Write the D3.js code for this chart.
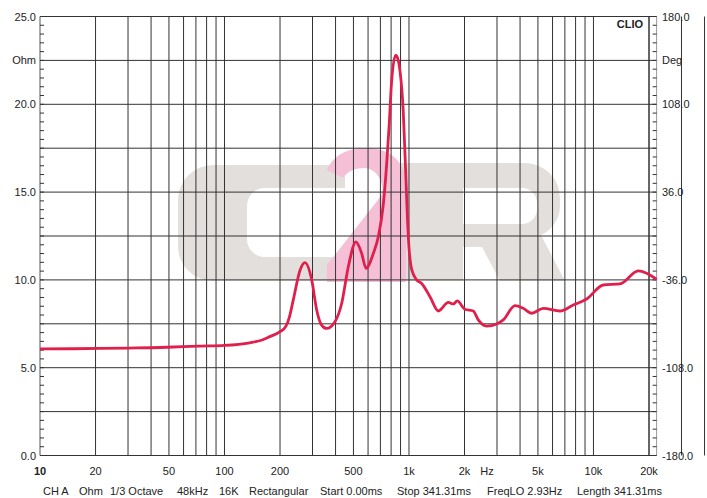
<!DOCTYPE html>
<html>
<head>
<meta charset="utf-8">
<script src="https://cdn.jsdelivr.net/npm/d3@7"></script>
<style>
  body { margin: 0; background: #fff; }
  text { font-family: "Liberation Sans", Arial, sans-serif; font-size: 11px; fill: #222; }
</style>
</head>
<body>
<div id="chart"></div>
<script>
// impedance curve
const freqs = [10, 15, 21, 30, 45, 60, 74, 100, 137, 160, 176, 200, 215, 225, 236, 257, 273, 297, 316, 336, 358, 397, 432, 469, 516, 554, 585, 641, 682, 726, 757, 782, 805, 847, 875, 894, 931, 960, 991, 1034, 1101, 1172, 1300, 1442, 1634, 1738, 1827, 2011, 2231, 2375, 2636, 2987, 3244, 3755, 4164, 4624, 5346, 6580, 7770, 9180, 11300, 13920, 17490, 19410, 22000];
const ohms = [6.07, 6.08, 6.1, 6.12, 6.15, 6.2, 6.23, 6.27, 6.42, 6.58, 6.77, 7.05, 7.35, 7.9, 8.86, 10.56, 10.98, 10.0, 8.29, 7.43, 7.24, 7.62, 8.67, 10.75, 12.17, 11.51, 10.66, 11.51, 12.46, 14.3, 16.6, 18.9, 21.3, 22.8, 22.5, 21.9, 19.6, 16.1, 12.5, 10.6, 10.0, 9.8, 9.04, 8.23, 8.72, 8.63, 8.8, 8.33, 8.23, 7.72, 7.37, 7.49, 7.72, 8.53, 8.38, 8.1, 8.38, 8.23, 8.57, 8.91, 9.71, 9.77, 10.51, 10.38, 10.03];

const xTicks = [10, 20, 50, 100, 200, 500, 1000, 2000, 5000, 10000, 20000];
const xTickLabels = ['10', '20', '50', '100', '200', '500', '1k', '2k', '5k', '10k', '20k'];
const yTicks = [0, 5, 10, 15, 20, 25];
const yTickLabels = ['0.0', '5.0', '10.0', '15.0', '20.0', '25.0'];
const degLabels = ['-180.0', '-108.0', '-36.0', '36.0', '108.0', '180.0'];
const infoItems = [['CH A', 43], ['Ohm', 79], ['1/3 Octave', 110], ['48kHz', 177], ['16K', 219], ['Rectangular', 249], ['Start 0.00ms', 320], ['Stop 341.31ms', 397], ['FreqLO 2.93Hz', 487], ['Length 341.31ms', 577]];

const width = 707, height = 498;

const svg = d3.select('#chart').append('svg')
    .attr('width', width)
    .attr('height', height);

const x = d3.scaleLog().domain([10, 20000]).range([40, 649]);
const y = d3.scaleLinear().domain([0, 25]).range([455.5, 16.5]);
const xLeft = x(10), xRight = x(22000), yTop = y(25), yBottom = y(0);

// C2R watermark
const wm = svg.append('g');
wm.append('path')
    .attr('fill', '#e3dfdc')
    .attr('d', 'M345 165 L213 165 A35 35 0 0 0 178 200 L178 246 A35 35 0 0 0 213 281 L345 281 L345 257 L265 257 A18 18 0 0 1 247 239 L247 206 A18 18 0 0 1 265 188 L345 188 Z');
wm.append('path')
    .attr('fill', '#e3dfdc')
    .attr('fill-rule', 'evenodd')
    .attr('d', 'M400 163 L525 163 A35 35 0 0 1 560 198 L560 206 A32 32 0 0 1 541 235 L565 281 L500 281 L482 247 L463 247 L463 281 L400 281 Z ' +
               'M463 188 L522 188 A15 15 0 0 1 537 203 L537 208 A15 15 0 0 1 522 224 L463 224 Z');
wm.append('path')
    .attr('fill', '#f5c0d5')
    .attr('d', 'M327 170 C333 155 348 148 366 148 C392 148 406 163 406 186 L406 282 L327 282 L327 265 L381 196 C386 186 378 168 364 168 C354 168 347 172 343 178 Z');

// grid
const vLines = [];
for (let d = 10; d <= 10000; d *= 10) {
    for (let m = 1; m <= 9; m++) vLines.push(d * m);
}
vLines.push(20000);

svg.append('g').selectAll('line')
    .data(vLines.filter(v => v > 10))
    .enter().append('line')
    .attr('x1', d => x(d)).attr('x2', d => x(d))
    .attr('y1', yTop).attr('y2', yBottom)
    .attr('stroke', '#333').attr('stroke-width', 1);

svg.append('g').selectAll('line')
    .data(d3.range(0, 25.01, 2.5))
    .enter().append('line')
    .attr('x1', xLeft).attr('x2', xRight)
    .attr('y1', d => y(d)).attr('y2', d => y(d))
    .attr('stroke', '#333').attr('stroke-width', 1);

svg.append('line')
    .attr('x1', xLeft).attr('x2', xLeft).attr('y1', yTop).attr('y2', yBottom)
    .attr('stroke', '#555');
svg.append('line')
    .attr('x1', xRight).attr('x2', xRight).attr('y1', yTop).attr('y2', yBottom)
    .attr('stroke', '#999');

// minor ticks on both sides
const minor = d3.range(0, 25.01, 0.5);
svg.append('g').selectAll('line')
    .data(minor).enter().append('line')
    .attr('x1', xLeft).attr('x2', xLeft + 4)
    .attr('y1', d => y(d)).attr('y2', d => y(d))
    .attr('stroke', '#333');
svg.append('g').selectAll('line')
    .data(minor).enter().append('line')
    .attr('x1', xRight - 4).attr('x2', xRight)
    .attr('y1', d => y(d)).attr('y2', d => y(d))
    .attr('stroke', '#333');

// curve
const line = d3.line()
    .x((d, i) => x(freqs[i]))
    .y(d => y(d))
    .curve(d3.curveMonotoneX);

svg.append('path')
    .datum(ohms)
    .attr('fill', 'none')
    .attr('stroke', '#e01f4d')
    .attr('stroke-width', 2.8)
    .attr('stroke-linejoin', 'round')
    .attr('d', line);

// left labels
svg.append('g').selectAll('text')
    .data(yTicks).enter().append('text')
    .attr('x', 36).attr('y', d => y(d) + 4)
    .attr('text-anchor', 'end')
    .text((d, i) => yTickLabels[i]);
svg.append('text').attr('x', 36).attr('y', y(22.5) + 4)
    .attr('text-anchor', 'end').text('Ohm');

// right labels
svg.append('g').selectAll('text')
    .data(yTicks).enter().append('text')
    .attr('x', 662).attr('y', d => y(d) + 4)
    .text((d, i) => degLabels[i]);
svg.append('text').attr('x', 662).attr('y', y(22.5) + 4).text('Deg');

// bottom labels
svg.append('g').selectAll('text')
    .data(xTicks).enter().append('text')
    .attr('x', d => x(d)).attr('y', 475)
    .attr('text-anchor', 'middle')
    .style('font-weight', d => d === 10 ? 'bold' : null)
    .text((d, i) => xTickLabels[i]);
svg.append('text').attr('x', x(2650)).attr('y', 475)
    .attr('text-anchor', 'middle').text('Hz');

svg.append('text').attr('x', 643).attr('y', 28)
    .attr('text-anchor', 'end').style('font-weight', 'bold').text('CLIO');

svg.append('g').selectAll('text')
    .data(infoItems).enter().append('text')
    .attr('x', d => d[1]).attr('y', 495)
    .text(d => d[0]);
</script>
</body>
</html>
